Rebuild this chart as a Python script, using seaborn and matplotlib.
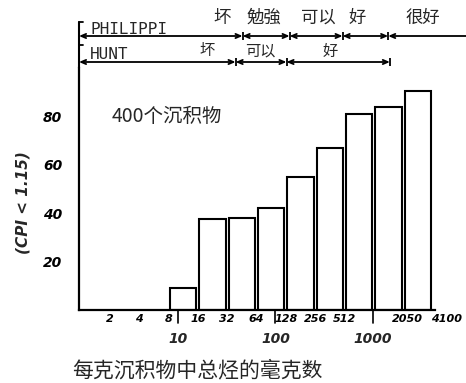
import numpy as np
import pandas as pd
import matplotlib
matplotlib.use("Agg")
import matplotlib.pyplot as plt
import matplotlib.transforms as mtransforms
import seaborn as sns

# ---- data ----
bin_edges = [8, 16, 32, 64, 128, 256, 512, 1024, 2050, 4100]
cpi_percent = [9, 37.5, 38, 42, 55, 67, 81, 84, 90.5]
tick_values = [2, 4, 8, 16, 32, 64, 128, 256, 512, 2050, 4100]
tick_labels = ["2", "4", "8", "16", "32", "64", "128", "256", "512", "2050", "4100"]
decade_values = [10, 100, 1000]
decade_labels = ["10", "100", "1000"]
y_ticks = [20, 40, 60, 80]
philippi_bounds = [46, 140, 490, 1440]
philippi_labels = ["坏", "勉強", "可以", "好", "很好"]
hunt_bounds = [39, 130, 1500]
hunt_labels = ["坏", "可以", "好"]
annotation_text = "400个沉积物"
x_title = "每克沉积物中总烃的毫克数"
y_title = "(CPI < 1.15)"

sns.set_style("white")
plt.rcParams['font.family'] = ['Noto Sans CJK SC', 'DejaVu Sans']

W, H = 466, 383
fig = plt.figure(figsize=(W / 100, H / 100), dpi=100)
L, R, B, T = 79, 435, 310, 68
ax = fig.add_axes([L / W, 1 - B / H, (R - L) / W, (B - T) / H])
ax.set_xscale('log')

edges = np.array(bin_edges, dtype=float)
centers = np.sqrt(edges[:-1] * edges[1:])
df = pd.DataFrame({"x": centers, "y": cpi_percent})
sns.barplot(data=df, x="x", y="y", native_scale=True, width=0.9,
            color="white", saturation=1, edgecolor="black", linewidth=1.5,
            errorbar=None, ax=ax)

x0, x1 = 0.96, 4360
ax.set_xlim(x0, x1)
ax.set_ylim(0, 100)

def frac_to_x(f):
    return 10 ** (np.log10(x0) + f * (np.log10(x1) - np.log10(x0)))

ax.xaxis.set_minor_locator(matplotlib.ticker.NullLocator())
ax.set_xticks(tick_values)
ax.set_xticklabels(tick_labels)
ax.set_yticks(y_ticks)
ax.set_yticklabels([str(v) for v in y_ticks])
ax.tick_params(axis='both', direction='in', length=4, width=1.2, colors='black')
ax.tick_params(axis='x', pad=3, labelsize=8)
ax.tick_params(axis='y', pad=12, labelsize=10)
for lbl in ax.get_xticklabels() + ax.get_yticklabels():
    lbl.set_fontstyle('italic')
    lbl.set_fontweight('bold')
    lbl.set_family('DejaVu Sans')

# nudge the two crowded right-hand labels apart
xlabels = ax.get_xticklabels()
shift = {"2050": 4, "4100": 14}
for lbl in xlabels:
    dx = shift.get(lbl.get_text())
    if dx:
        lbl.set_transform(lbl.get_transform() +
                          mtransforms.ScaledTranslation(dx / 100, 0, fig.dpi_scale_trans))

ax.set_xlabel("")
ax.set_ylabel("")
for s in ['top', 'right']:
    ax.spines[s].set_visible(False)
for s in ['left', 'bottom']:
    ax.spines[s].set_linewidth(1.6)
    ax.spines[s].set_color('black')

# decade markers below axis
xt = ax.get_xaxis_transform()
for v, lab in zip(decade_values, decade_labels):
    ax.plot([v, v], [0, -0.055], transform=xt, color='black', lw=1.2, clip_on=False)
    ax.text(v, -0.12, lab, transform=xt, ha='center', va='center', fontsize=10,
            fontstyle='italic', fontweight='bold', family='DejaVu Sans')

# annotation inside
ax.text((112 - L) / (R - L), (B - 117) / (B - T), annotation_text, transform=ax.transAxes,
        ha='left', va='center', fontsize=14)

# axis titles
fig.text(72 / W, 1 - 370 / H, x_title, ha='left', va='center', fontsize=15)
fig.text(23 / W, 1 - 203 / H, y_title, ha='center', va='center', rotation=90,
         fontsize=11, fontstyle='italic', fontweight='bold', family='DejaVu Sans')

# header classification bars
def ay(py):
    return (B - py) / (B - T)

def seg(xa, xb, y, style):
    ax.annotate("", xy=(xb, y), xytext=(xa, y), xycoords=xt, textcoords=xt,
                arrowprops=dict(arrowstyle=style, lw=1.3, color='black',
                                shrinkA=0, shrinkB=0), annotation_clip=False)

y_ph = ay(36)
y_hu = ay(62)
arrow = "<->,head_length=0.35,head_width=0.15"
ph_pts = [frac_to_x(0)] + philippi_bounds
for a, b in zip(ph_pts[:-1], ph_pts[1:]):
    seg(a, b, y_ph, arrow)
seg(philippi_bounds[-1], frac_to_x((466 - L) / (R - L)), y_ph, "<-,head_length=0.35,head_width=0.15")
hu_pts = [frac_to_x(0)] + hunt_bounds
for a, b in zip(hu_pts[:-1], hu_pts[1:]):
    seg(a, b, y_hu, arrow)
for v in philippi_bounds:
    ax.plot([v], [y_ph], transform=xt, marker='|', ms=6, mew=1.3, color='black', clip_on=False)
for v in hunt_bounds:
    ax.plot([v], [y_hu], transform=xt, marker='|', ms=6, mew=1.3, color='black', clip_on=False)

# left bracket
ax.plot([0, 0], [ay(22), 1.0], transform=ax.transAxes, color='black', lw=1.5, clip_on=False)
for py in (22, 45):
    ax.plot([0, 4 / (R - L)], [ay(py), ay(py)], transform=ax.transAxes, color='black', lw=1.3, clip_on=False)

ax.text((90 - L) / (R - L), ay(34), "PHILIPPI", transform=ax.transAxes, ha='left', va='baseline',
        fontsize=11.5, family='DejaVu Sans Mono')
ax.text((90 - L) / (R - L), ay(59), "HUNT", transform=ax.transAxes, ha='left', va='baseline',
        fontsize=11.5, family='DejaVu Sans Mono')

ph_label_px = [222, 264, 318, 357, 423]
for lab, px in zip(philippi_labels, ph_label_px):
    ax.text((px - L) / (R - L), ay(18), lab, transform=ax.transAxes, ha='center', va='center', fontsize=12.5)
hu_label_px = [207, 260, 330]
for lab, px in zip(hunt_labels, hu_label_px):
    ax.text((px - L) / (R - L), ay(51), lab, transform=ax.transAxes, ha='center', va='center', fontsize=11)

fig.savefig("out.png", dpi=100, facecolor='white')
